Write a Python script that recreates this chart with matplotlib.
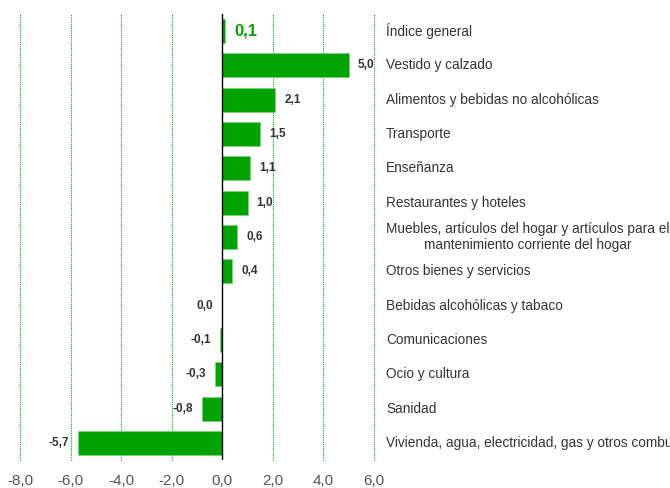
import matplotlib
matplotlib.use("Agg")
import matplotlib.pyplot as plt
from matplotlib.ticker import FixedLocator, FuncFormatter

categories = [
    "Índice general",
    "Vestido y calzado",
    "Alimentos y bebidas no alcohólicas",
    "Transporte",
    "Enseñanza",
    "Restaurantes y hoteles",
    "Muebles, artículos del hogar y artículos para el\nmantenimiento corriente del hogar",
    "Otros bienes y servicios",
    "Bebidas alcohólicas y tabaco",
    "Comunicaciones",
    "Ocio y cultura",
    "Sanidad",
    "Vivienda, agua, electricidad, gas y otros combustibles",
]
values = [0.1, 5.0, 2.1, 1.5, 1.1, 1.0, 0.6, 0.4, 0.0, -0.1, -0.3, -0.8, -5.7]
xticks = [-8, -6, -4, -2, 0, 2, 4, 6]

plt.rcParams['font.family'] = ['Liberation Sans', 'DejaVu Sans']

fig = plt.figure(figsize=(6.7, 4.88), dpi=100)
ax = fig.add_axes([20 / 670, 1 - 460 / 488, 354 / 670, 446 / 488])

green = '#00a300'
ypos = list(range(len(values)))
ax.barh(ypos, values, height=0.7, color=green, edgecolor='#7fd17f', linewidth=0.5, zorder=3)

ax.set_xlim(-8, 6)
ax.set_ylim(len(values) - 0.5, -0.5)

# gridlines verdes punteadas
for t in xticks:
    if t != 0:
        ax.axvline(t, color='#00b000', linestyle=(0, (1, 1)), linewidth=0.8,
                   zorder=1, clip_on=False)
ax.axvline(0, color='black', linewidth=1.0, zorder=4)

ax.xaxis.set_major_locator(FixedLocator(xticks))
ax.xaxis.set_major_formatter(FuncFormatter(lambda v, p: f"{v:.1f}".replace('.', ',')))
ax.tick_params(axis='x', length=0, labelsize=11, labelcolor='#555555', pad=10)
ax.set_yticks([])
for s in ax.spines.values():
    s.set_visible(False)

# etiquetas de valor
for i, v in enumerate(values):
    txt = f"{v:.1f}".replace('.', ',')
    if i == 0:
        ax.annotate(txt, (v, i), xytext=(7, 0), textcoords='offset points',
                    ha='left', va='center', fontsize=12, fontweight='bold', color=green)
    elif v > 0:
        ax.annotate(txt, (v, i), xytext=(6.5, 0), textcoords='offset points',
                    ha='left', va='center', fontsize=8.5, fontweight='bold', color='#333333')
    else:
        ax.annotate(txt, (v, i), xytext=(-6.5, 0), textcoords='offset points',
                    ha='right', va='center', fontsize=8.5, fontweight='bold', color='#333333')

# nombres de categorías a la derecha del área de trazado
label_x = (386 - 20) / 354
for i, c in enumerate(categories):
    ax.text(label_x, i, c, transform=ax.get_yaxis_transform(), fontsize=9.8,
            color='#333333', ha='left', va='center', multialignment='center',
            clip_on=False)

fig.savefig("out.png", dpi=100)
